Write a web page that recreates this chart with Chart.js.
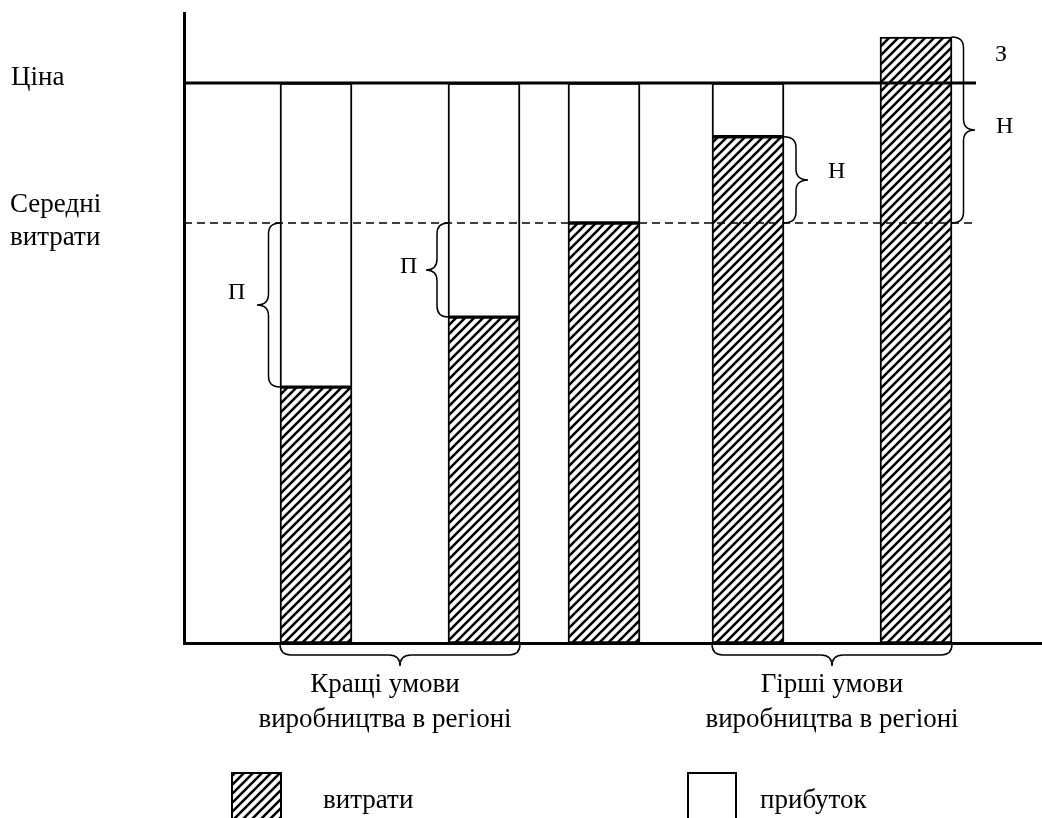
<!DOCTYPE html>
<html>
<head>
<meta charset="utf-8">
<script src="https://cdn.jsdelivr.net/npm/chart.js@4.4.0/dist/chart.umd.min.js"></script>
<style>
 html,body{margin:0;padding:0;background:#fff;}
</style>
</head>
<body>
<canvas id="chart" width="1042" height="818"></canvas>
<script>
// data
var producers=["1","2","3","4","5"];
var producerPos=[5.5,12.5,17.5,23.5,30.5];
var costs=[45.7,58.2,75,90.4,108.2];
var price=100;
var avgCost=75;
var lineEnd=33;
var xMax=35.75;
var yMax=112.5;
var sideLabels=["Ціна","Середні","витрати"];
var groupLabels=[["Кращі умови","виробництва в регіоні"],["Гірші умови","виробництва в регіоні"]];
var legendLabels=["витрати","прибуток"];
var FONT='"Liberation Serif", serif';

var ctx=document.getElementById("chart").getContext("2d");

// hatch pattern for costs
function hatch(){
 var c=document.createElement("canvas");c.width=9;c.height=9;
 var g=c.getContext("2d");
 g.fillStyle="#fff";g.fillRect(0,0,9,9);
 g.strokeStyle="#000";g.lineWidth=2.6;
 g.beginPath();
 g.moveTo(-1,10);g.lineTo(10,-1);
 g.moveTo(-2,2);g.lineTo(2,-2);
 g.moveTo(7,11);g.lineTo(11,7);
 g.stroke();
 return ctx.createPattern(c,"repeat");
}
var hatchFill=hatch();

var costData=producerPos.map(function(x,i){return {x:x,y:costs[i]};});
var profitData=producerPos.map(function(x,i){return costs[i]<price?{x:x,y:[costs[i],price]}:{x:x,y:null};});

/* braces */
function vBrace(g,x0,y1,y2,w,dir){
 var xm=x0+dir*w/2,xt=x0+dir*w,ym=(y1+y2)/2,r=Math.min(11,(y2-y1)/4);
 g.beginPath();
 g.moveTo(x0,y1);
 g.quadraticCurveTo(xm,y1,xm,y1+r);
 g.lineTo(xm,ym-r);
 g.quadraticCurveTo(xm,ym,xt,ym);
 g.quadraticCurveTo(xm,ym,xm,ym+r);
 g.lineTo(xm,y2-r);
 g.quadraticCurveTo(xm,y2,x0,y2);
 g.stroke();
}
function hBrace(g,y0,x1,x2,h){
 var ym=y0+h/2,yt=y0+h,xm=(x1+x2)/2,r=11;
 g.beginPath();
 g.moveTo(x1,y0);
 g.quadraticCurveTo(x1,ym,x1+r,ym);
 g.lineTo(xm-r,ym);
 g.quadraticCurveTo(xm,ym,xm,yt);
 g.quadraticCurveTo(xm,ym,xm+r,ym);
 g.lineTo(x2-r,ym);
 g.quadraticCurveTo(x2,ym,x2,y0);
 g.stroke();
}

var notes={
 id:"notes",
 afterDatasetsDraw:function(chart){
  var g=chart.ctx,xs=chart.scales.x,ys=chart.scales.y;
  var half=36;
  var left=function(i){return xs.getPixelForValue(producerPos[i])-half;};
  var right=function(i){return xs.getPixelForValue(producerPos[i])+half;};
  var yP=ys.getPixelForValue(price),yA=ys.getPixelForValue(avgCost);
  var yC=costs.map(function(c){return ys.getPixelForValue(c);});
  var y0=ys.getPixelForValue(0);
  g.save();
  g.strokeStyle="#000";g.lineWidth=1.5;g.lineCap="round";
  vBrace(g,left(0),yA,yC[0],23,-1);
  vBrace(g,left(1),yA,yC[1],22,-1);
  vBrace(g,right(3),yC[3],yA,24,1);
  vBrace(g,right(4),yC[4],yA,23,1);
  hBrace(g,y0+1,left(0),right(1),22);
  hBrace(g,y0+1,left(3),right(4),22);
  // letters
  g.fillStyle="#000";g.textBaseline="alphabetic";g.textAlign="left";
  g.font="24px "+FONT;
  g.fillText("П",left(0)-52,(yA+yC[0])/2-6);
  g.fillText("П",left(1)-48,(yA+yC[1])/2+3);
  g.fillText("Н",right(3)+44,(yC[3]+yA)/2-2);
  g.fillText("Н",right(4)+44,(yC[4]+yA)/2+3);
  g.fillText("З",right(4)+43,(yC[4]+yP)/2+1);
  // side labels
  g.font="27px "+FONT;
  g.fillText(sideLabels[0],11,yP+2);
  g.fillText(sideLabels[1],10,yA-11);
  g.fillText(sideLabels[2],10,yA+22);
  // group labels
  g.textAlign="center";
  var cx=[(left(0)+right(1))/2-15,(left(3)+right(4))/2];
  groupLabels.forEach(function(l,i){
   g.fillText(l[0],cx[i],y0+49);
   g.fillText(l[1],cx[i],y0+84);
  });
  // legend
  g.textAlign="left";
  g.fillStyle=hatchFill;
  g.fillRect(232,773,49,50);
  g.strokeStyle="#000";g.lineWidth=2;
  g.strokeRect(232,773,49,50);
  g.fillStyle="#000";
  g.fillText(legendLabels[0],323,808);
  g.fillStyle="#fff";
  g.fillRect(688,773,48,50);
  g.strokeRect(688,773,48,50);
  g.fillStyle="#000";
  g.fillText(legendLabels[1],760,808);
  g.restore();
 }
};

var chart=new Chart(ctx,{
 data:{
  datasets:[
   {type:"line",label:"Ціна",data:[{x:0,y:price},{x:lineEnd,y:price}],borderColor:"#000",borderWidth:3,pointRadius:0,order:0},
   {type:"line",label:"Середні витрати",data:[{x:0,y:avgCost},{x:lineEnd,y:avgCost}],borderColor:"#000",borderWidth:1.5,borderDash:[8,5],pointRadius:0,order:0},
   {type:"bar",label:legendLabels[1],data:profitData,backgroundColor:"#fff",borderColor:"#000",borderWidth:2,borderSkipped:false,grouped:false,barThickness:72,order:2},
   {type:"bar",label:legendLabels[0],data:costData,backgroundColor:hatchFill,borderColor:"#000",borderWidth:2,borderSkipped:false,grouped:false,barThickness:72,order:1}
  ]
 },
 options:{
  responsive:false,
  animation:false,
  layout:{padding:{left:184,top:13,right:0,bottom:175}},
  plugins:{legend:{display:false},tooltip:{enabled:false}},
  scales:{
   x:{type:"linear",offset:false,min:0,max:xMax,grid:{display:false,offset:false},ticks:{display:false},border:{display:true,color:"#000",width:3},afterFit:function(s){s.height=0;}},
   y:{type:"linear",min:0,max:yMax,grid:{display:false},ticks:{display:false},border:{display:true,color:"#000",width:3},afterFit:function(s){s.width=0;}}
  }
 },
 plugins:[notes]
});
</script>
</body>
</html>
